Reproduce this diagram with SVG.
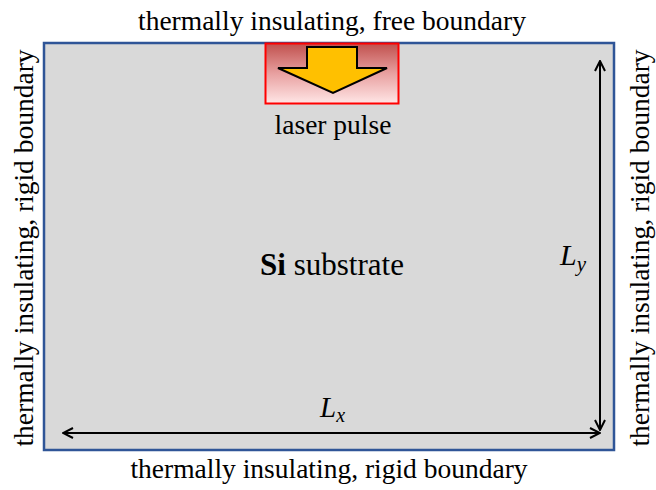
<svg xmlns="http://www.w3.org/2000/svg" width="656" height="490" viewBox="0 0 656 490">
<style>
.t{font-family:"Liberation Serif","Times New Roman",serif;font-size:27.5px;fill:#000}
.i{font-style:italic}
.conn{stroke:#000;stroke-width:2;fill:none}
</style>
<defs>
<linearGradient id="lg" x1="0" y1="0" x2="0" y2="1">
<stop offset="0" stop-color="#C0504D"/>
<stop offset="0.5" stop-color="#E8A0A0"/>
<stop offset="1" stop-color="#FFE6E6"/>
</linearGradient>
<marker id="ah" viewBox="0 0 12 12" refX="11" refY="6" markerWidth="12" markerHeight="12" markerUnits="userSpaceOnUse" orient="auto-start-reverse">
<path d="M1,1 L11,6 L1,11" fill="none" stroke="#000" stroke-width="2"/>
</marker>
</defs>
<rect x="0" y="0" width="656" height="490" fill="#fff"/>
<g id="substrate">
<rect x="44" y="43" width="570" height="407" fill="#D9D9D9" stroke="#2F5597" stroke-width="2.5"/>
<text class="t" x="332" y="275" text-anchor="middle" style="font-size:31px"><tspan font-weight="bold">Si</tspan> substrate</text>
</g>
<g id="laser">
<rect x="265.5" y="43.5" width="133" height="60" fill="url(#lg)" stroke="#FF0000" stroke-width="2"/>
<path d="M307,47 L357,47 L357,68 L387,68 L333,93 L278,68 L307,68 Z" fill="#FFC000" stroke="#000" stroke-width="2" stroke-linejoin="miter"/>
<text class="t" x="333" y="134" text-anchor="middle">laser pulse</text>
</g>
<g id="connectors">
<line class="conn" x1="63" y1="433" x2="600" y2="433" marker-start="url(#ah)" marker-end="url(#ah)"/>
<line class="conn" x1="600" y1="61" x2="600" y2="430" marker-start="url(#ah)" marker-end="url(#ah)"/>
</g>
<g id="labels">
<text class="t" x="332" y="30" text-anchor="middle">thermally insulating, free boundary</text>
<text class="t" x="329" y="478" text-anchor="middle">thermally insulating, rigid boundary</text>
<text class="t" transform="translate(33,248) rotate(-90)" text-anchor="middle">thermally insulating, rigid boundary</text>
<text class="t" transform="translate(649,248) rotate(-90)" text-anchor="middle">thermally insulating, rigid boundary</text>
<text class="t i" x="560" y="265" style="font-size:30px">L<tspan style="font-size:21px" dy="6">y</tspan></text>
<text class="t i" x="320" y="417" style="font-size:29px">L<tspan style="font-size:20px" dy="5">x</tspan></text>
</g>
</svg>
